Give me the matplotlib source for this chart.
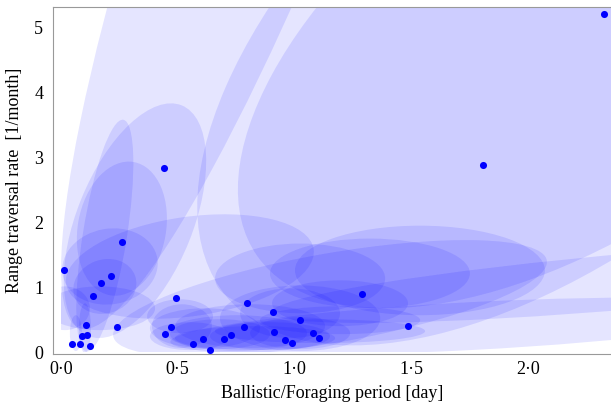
import numpy as np
import matplotlib
matplotlib.use("Agg")
from matplotlib import pyplot as plt
from matplotlib.patches import Ellipse, Rectangle
from matplotlib.transforms import Affine2D

BLUE = "#0000ff"

# estimates (ballistic period [day], range traversal rate [1/month])
period = [0.013, 0.047, 0.081, 0.09, 0.11, 0.107, 0.124, 0.137, 0.171, 0.214,
          0.261, 0.24, 0.441, 0.492, 0.445, 0.471, 0.565, 0.608, 0.638, 0.698,
          0.728, 0.784, 0.797, 0.908, 0.912, 0.959, 0.989, 1.024, 1.079, 1.105,
          1.289, 1.486, 1.807, 2.325]
rate = [1.26, 0.12, 0.12, 0.25, 0.26, 0.41, 0.09, 0.86, 1.07, 1.17,
        1.70, 0.38, 2.84, 0.83, 0.28, 0.38, 0.12, 0.20, 0.03, 0.20,
        0.26, 0.38, 0.75, 0.61, 0.31, 0.18, 0.14, 0.49, 0.29, 0.21,
        0.90, 0.40, 2.88, 5.21]

# confidence regions: centre and two conjugate semi-axes (data units)
ell_cx = [1.06, 2.22, 2.244, 2.48, 1.752, 1.152, 1.537, 1.323, 1.024, 1.195,
          1.195, 1.109, 0.981, 0.518, 0.754, 1.024, 0.552, 0.188, 0.261, 0.317,
          0.188, 0.21, 0.103, 0.064, 0.017, 0.167, 0.51, 0.831, 0.617,
          0.895, 0.681, 1.024, 0.552, 0.81]
ell_cy = [10.03, 5.383, 5.0, 1.104, 0.399, 0.828, 1.258, 1.212, 1.135, 0.752,
          0.491, 0.322, 0.598, 0.399, 0.291, 0.521, 1.319, 1.794, 1.902, 2.025,
          1.012, 1.319, 0.368, 0.291, 0.675, 0.675, 0.552, 0.215, 0.368,
          0.245, 0.276, 0.291, 0.245, 0.40]
ell_ux = [0.981, 1.509, 1.403, 1.579, 1.283, 0.928, 0.535, 0.428, 0.364, 0.291,
          0.343, 0.45, 0.214, 0.128, 0.30, 0.343, 0.530, 0.079, 0.0506, 0.2,
          0.129, 0.2025, 0.0, 0.0, 0.107, 0.236, 0.141, 0.343, 0.236,
          0.257, 0.214, 0.214, 0.171, 0.321]
ell_uy = [9.66, 4.537, 3.521, 0.495, 0.241, 0.586, 0.0, 0.0, 0.0, 0.0,
          0.0, 0.0, 0.0, 0.0, 0.0, 0.0, 0.267, 1.787, 1.027, 1.778,
          0.168, 0.128, 0.383, 0.276, 0.0, 0.0, 0.0, 0.0, 0.0,
          0.0, 0.0, 0.0, 0.0, 0.0]
ell_vx = [-0.40, -0.633, -0.491, -0.0105, -0.0054, -0.0335, 0.0, 0.0, 0.0, 0.0,
          0.0, 0.0, 0.0, 0.0, 0.0, 0.0, -0.0298, -0.093, -0.186, -0.230,
          -0.0395, -0.028, 0.0257, 0.0257, 0.0, 0.0, 0.0, 0.0, 0.0,
          0.0, 0.0, 0.0, 0.0, 0.0]
ell_vy = [0.52, 2.702, 2.512, 0.428, 0.368, 0.680, 0.690, 0.537, 0.537, 0.353,
          0.215, 0.184, 0.383, 0.337, 0.276, 0.506, 0.759, 0.053, 0.117, 0.333,
          0.389, 0.574, 0.0, 0.0, 0.337, 0.337, 0.261, 0.184, 0.307,
          0.215, 0.23, 0.245, 0.215, 0.337]

xticks = [0.0, 0.5, 1.0, 1.5, 2.0]
yticks = [0, 1, 2, 3, 4, 5]
xmin, xmax = -0.034, 2.355
ymin, ymax = -0.03, 5.32

plt.rcParams['font.family'] = ['Liberation Serif', 'DejaVu Serif']

fig = plt.figure(figsize=(6.11, 4.09), dpi=100)
ax = fig.add_axes([0.0867, 0.1345, 0.9133, 0.8485])
ax.set_xlim(xmin, xmax)
ax.set_ylim(ymin, ymax)

clip = Rectangle((0, 0), xmax, ymax, transform=ax.transData)
for cx, cy, ux, uy, vx, vy in zip(ell_cx, ell_cy, ell_ux, ell_uy, ell_vx, ell_vy):
    tr = Affine2D(np.array([[ux, vx, cx],
                            [uy, vy, cy],
                            [0, 0, 1]])) + ax.transData
    e = Ellipse((0, 0), 2, 2, transform=tr, facecolor=BLUE, edgecolor='none', alpha=0.1)
    ax.add_patch(e)
    e.set_clip_path(clip)

ax.scatter(period, rate, s=26, color=BLUE, zorder=5, linewidths=0)

ax.set_xticks(xticks)
ax.set_xticklabels([f"{v:.1f}".replace('.', '\u00b7') for v in xticks])
ax.set_yticks(yticks)
ax.tick_params(length=0, labelsize=13, colors='black')
ax.tick_params(axis='x', pad=5)
ax.tick_params(axis='y', pad=7)
for s in ['left', 'bottom', 'top']:
    ax.spines[s].set_color('#999999')
ax.spines['right'].set_visible(False)

ax.set_xlabel("Ballistic/Foraging period [day]", fontsize=13, labelpad=5)
ax.set_ylabel("Range traversal rate  [1/month]", fontsize=13, labelpad=8)

fig.savefig("out.png", dpi=100)
